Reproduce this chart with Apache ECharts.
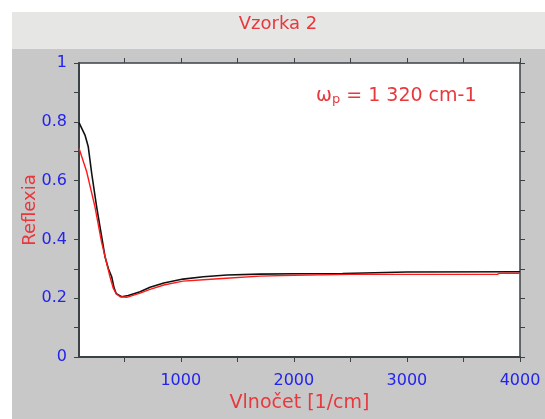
<!DOCTYPE html>
<html>
<head>
<meta charset="utf-8">
<script src="https://cdn.jsdelivr.net/npm/echarts@6/dist/echarts.min.js"></script>
<style>
	html, body { margin: 0; padding: 0; background: #fff; }
	#chart { width: 545px; height: 419px; }
</style>
</head>
<body>
<div id="chart"></div>
<script>
	// namerane hodnoty (vlnocet / reflexia)
	const blackX = [100, 153, 182, 212, 256, 300, 330, 360, 389, 410, 430, 477, 536, 640, 728, 850, 1020, 1200, 1409, 1700, 2000, 2430, 2440, 3000, 4000];
	const blackY = [0.797, 0.755, 0.715, 0.625, 0.511, 0.41, 0.341, 0.30, 0.273, 0.235, 0.215, 0.205, 0.209, 0.222, 0.237, 0.252, 0.265, 0.273, 0.279, 0.282, 0.283, 0.284, 0.289, 0.289, 0.290];
	// fit
	const redX = [100, 168, 241, 300, 374, 403, 430, 463, 522, 640, 728, 850, 1020, 1200, 1400, 1700, 2000, 2500, 3000, 3800, 3820, 4000];
	const redY = [0.71, 0.63, 0.511, 0.39, 0.273, 0.234, 0.215, 0.205, 0.203, 0.217, 0.230, 0.245, 0.258, 0.263, 0.268, 0.275, 0.278, 0.281, 0.281, 0.281, 0.285, 0.285];
	const xTicks = [500, 1000, 1500, 2000, 2500, 3000, 3500, 4000];
	const xLabels = [1000, 2000, 3000, 4000];
	const yTicks = [0, 0.1, 0.2, 0.3, 0.4, 0.5, 0.6, 0.7, 0.8, 0.9, 1];
	const yLabels = [0, 0.2, 0.4, 0.6, 0.8, 1];

	const FONT = 'DejaVu Sans';
	const AXIS = '#3a4245';
	const BLUE = '#2323ee';
	const RED = '#e8383d';

	const pairs = (xs, ys) => xs.map((x, i) => [x, ys[i]]);

	const chart = echarts.init(document.getElementById('chart'));

	const tickStyle = { show: true, inside: false, length: 5, lineStyle: { color: AXIS, width: 1 } };

	const option = {
		animation: false,
		textStyle: { fontFamily: FONT },
		graphic: [
			{ type: 'rect', shape: { x: 12, y: 12, width: 533, height: 37 }, style: { fill: '#e6e6e5' }, z: -10 },
			{ type: 'rect', shape: { x: 12, y: 49, width: 533, height: 370 }, style: { fill: '#c8c8c8' }, z: -10 },
			{
				type: 'text', left: 316, top: 87, z: 10,
				style: {
					text: '{w|ω}{s|p}{w| = 1 320 cm-1}',
					rich: {
						w: { fontSize: 19, fontFamily: FONT, fill: RED },
						s: { fontSize: 13, fontFamily: FONT, fill: RED, padding: [7, 0, 0, 0] }
					}
				}
			}
		],
		title: {
			text: 'Vzorka 2', left: 273, top: 10, textAlign: 'center',
			textStyle: { color: RED, fontSize: 18, fontWeight: 'normal', fontFamily: FONT }
		},
		grid: {
			left: 79, top: 63, right: 25, bottom: 62,
			show: true, backgroundColor: '#fff', borderWidth: 0
		},
		xAxis: [{
			type: 'value', min: 100, max: 4000, position: 'bottom',
			name: 'Vlnočet [1/cm]', nameLocation: 'middle', nameGap: 37, nameMoveOverlap: false,
			nameTextStyle: { color: RED, fontSize: 19, fontFamily: FONT },
			axisLine: { show: true, onZero: false, lineStyle: { color: AXIS, width: 2 } },
			axisTick: Object.assign({ customValues: xTicks }, tickStyle),
			axisLabel: { customValues: xLabels, formatter: v => String(v), color: BLUE, fontSize: 16, margin: 16, fontFamily: FONT },
			splitLine: { show: false }
		}, {
			type: 'value', min: 100, max: 4000, position: 'top',
			axisLine: { show: true, onZero: false, lineStyle: { color: AXIS, width: 1.5 } },
			axisTick: Object.assign({ customValues: xTicks }, tickStyle),
			axisLabel: { show: false },
			splitLine: { show: false }
		}],
		yAxis: [{
			type: 'value', min: 0, max: 1, position: 'left',
			name: 'Reflexia', nameLocation: 'middle', nameGap: 40, nameRotate: 90, nameMoveOverlap: false,
			nameTextStyle: { color: RED, fontSize: 18, fontFamily: FONT },
			axisLine: { show: true, onZero: false, lineStyle: { color: AXIS, width: 2 } },
			axisTick: Object.assign({ customValues: yTicks }, tickStyle),
			axisLabel: { customValues: yLabels, formatter: v => String(v), color: BLUE, fontSize: 16, margin: 12, fontFamily: FONT },
			splitLine: { show: false }
		}, {
			type: 'value', min: 0, max: 1, position: 'right',
			axisLine: { show: true, onZero: false, lineStyle: { color: AXIS, width: 1.5 } },
			axisTick: Object.assign({ customValues: yTicks }, tickStyle),
			axisLabel: { show: false },
			splitLine: { show: false }
		}],
		series: [{
			name: 'meranie', type: 'line', xAxisIndex: 0, yAxisIndex: 0,
			data: pairs(blackX, blackY), showSymbol: false, smooth: false,
			lineStyle: { color: '#111', width: 1.6 }
		}, {
			name: 'fit', type: 'line', xAxisIndex: 0, yAxisIndex: 0,
			data: pairs(redX, redY), showSymbol: false, smooth: false,
			lineStyle: { color: '#ff1a1a', width: 1.4 }
		}]
	};
	chart.setOption(option);
</script>
</body>
</html>
